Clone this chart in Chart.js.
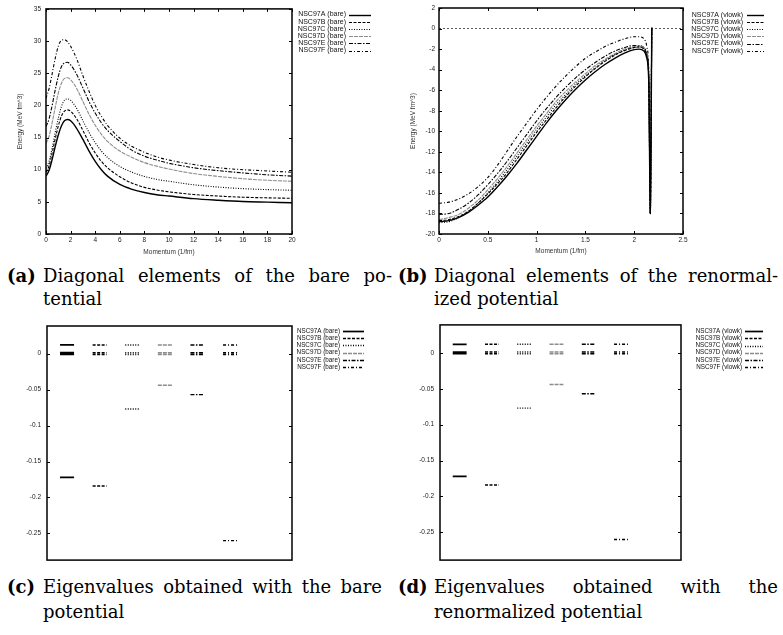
<!DOCTYPE html>
<html lang="en">
<head>
<meta charset="UTF-8">
<title>NSC97 potentials</title>
<script src="https://cdn.jsdelivr.net/npm/chart.js@4.4.1/dist/chart.umd.min.js"></script>
<style>
  body { margin: 0; background: #fff; width: 783px; height: 635px; position: relative; overflow: hidden; }
  canvas { position: absolute; }
  .cap { position: absolute; font-family: "DejaVu Serif", serif; font-size: 18px; color: #000; }
  .cap .l1 { display: flex; white-space: nowrap; }
  .cap .l1 b { width: 36px; flex: none; }
  .cap .l1 span { flex: 1; text-align: justify; text-align-last: justify; }
  .cap .l2 { padding-left: 36px; }
</style>
</head>
<body>
<canvas id="bare" width="392" height="258" style="left:0;top:0"></canvas>
<canvas id="vlowk" width="391" height="258" style="left:392px;top:0"></canvas>
<canvas id="eigBare" width="392" height="255" style="left:0;top:315px"></canvas>
<canvas id="eigVlowk" width="391" height="255" style="left:392px;top:315px"></canvas>

<div class="cap" style="left:7px;top:264px;width:385px;line-height:23px">
  <div class="l1"><b>(a)</b><span>Diagonal elements of the bare po-</span></div>
  <div class="l2">tential</div>
</div>
<div class="cap" style="left:398px;top:264px;width:380px;line-height:23px">
  <div class="l1"><b>(b)</b><span>Diagonal elements of the renormal-</span></div>
  <div class="l2">ized potential</div>
</div>
<div class="cap" style="left:7px;top:574px;width:375px;line-height:25px">
  <div class="l1"><b>(c)</b><span>Eigenvalues obtained with the bare</span></div>
  <div class="l2">potential</div>
</div>
<div class="cap" style="left:398px;top:574px;width:380px;line-height:25px">
  <div class="l1"><b>(d)</b><span>Eigenvalues obtained with the</span></div>
  <div class="l2">renormalized potential</div>
</div>

<script>
    // ---- data ----
    const sets = ["NSC97A", "NSC97B", "NSC97C", "NSC97D", "NSC97E", "NSC97F"];

    // (a) bare potential, diagonal elements
    const bareMomentum = [0, 0.25, 0.5, 0.75, 1, 1.25, 1.5, 1.75, 2, 2.5, 3, 3.5, 4, 4.5, 5, 6, 7, 8, 9, 10, 12, 14, 16, 18, 20];
    const bareA = [9.0, 9.9, 11.6, 13.6, 15.4, 16.8, 17.6, 17.8, 17.6, 16.4, 14.7, 12.9, 11.3, 10.0, 9.0, 7.7, 6.95, 6.45, 6.1, 5.9, 5.5, 5.25, 5.05, 4.95, 4.85];
    const bareB = [9.6, 10.6, 12.6, 14.8, 16.8, 18.3, 19.1, 19.3, 19.1, 17.9, 16.1, 14.2, 12.6, 11.3, 10.3, 8.9, 7.9, 7.25, 6.85, 6.55, 6.15, 5.9, 5.72, 5.62, 5.55];
    const bareC = [10.2, 11.3, 13.4, 15.8, 18.0, 19.8, 20.8, 21.0, 20.8, 19.5, 17.6, 15.8, 14.2, 12.9, 11.9, 10.5, 9.6, 8.95, 8.5, 8.2, 7.65, 7.3, 7.05, 6.9, 6.8];
    const bareD = [14.1, 15.2, 17.3, 19.7, 21.9, 23.4, 24.2, 24.3, 24.0, 22.6, 20.6, 18.6, 16.9, 15.5, 14.4, 12.9, 11.9, 11.1, 10.55, 10.1, 9.4, 8.95, 8.6, 8.35, 8.2];
    const bareE = [16.7, 17.9, 20.0, 22.4, 24.5, 26.0, 26.6, 26.7, 26.3, 24.8, 22.7, 20.6, 18.8, 17.3, 16.1, 14.4, 13.0, 12.1, 11.5, 11.0, 10.3, 9.85, 9.5, 9.2, 9.0];
    const bareF = [21.1, 22.6, 24.9, 27.3, 29.2, 30.1, 30.2, 29.9, 29.2, 27.2, 24.6, 22.2, 20.0, 18.3, 16.9, 14.9, 13.6, 12.7, 12.0, 11.5, 10.8, 10.3, 10.0, 9.8, 9.6];
    const bareXTicks = [0, 2, 4, 6, 8, 10, 12, 14, 16, 18, 20];
    const bareYTicks = [0, 5, 10, 15, 20, 25, 30, 35];

    // (b) vlowk, diagonal elements
    const vlowkMomentum = [0, 0.1, 0.2, 0.3, 0.4, 0.5, 0.6, 0.7, 0.8, 0.9, 1.0, 1.1, 1.2, 1.3, 1.4, 1.5, 1.6, 1.7, 1.8, 1.9, 2.0, 2.05, 2.1, 2.13, 2.15, 2.165, 2.18];
    const vlowkA = [-18.8, -18.7, -18.4, -17.9, -17.2, -16.4, -15.4, -14.3, -13.1, -11.8, -10.5, -9.2, -8.0, -6.9, -5.9, -5.0, -4.2, -3.5, -2.9, -2.4, -2.05, -2.0, -2.2, -2.9, -5.5, -18.0, 0.1];
    const vlowkB = [-18.7, -18.6, -18.3, -17.8, -17.0, -16.1, -15.1, -14.0, -12.7, -11.4, -10.1, -8.9, -7.7, -6.6, -5.6, -4.7, -3.9, -3.2, -2.6, -2.15, -1.85, -1.8, -2.0, -2.7, -5.3, -18.0, 0.1];
    const vlowkC = [-18.9, -18.8, -18.4, -17.8, -17.0, -16.0, -14.9, -13.7, -12.4, -11.1, -9.8, -8.6, -7.4, -6.4, -5.4, -4.6, -3.8, -3.1, -2.55, -2.1, -1.85, -1.8, -2.0, -2.7, -5.3, -18.0, 0.1];
    const vlowkD = [-18.6, -18.4, -18.1, -17.5, -16.7, -15.7, -14.6, -13.4, -12.1, -10.8, -9.5, -8.3, -7.1, -6.1, -5.2, -4.4, -3.6, -3.0, -2.45, -2.0, -1.75, -1.7, -1.9, -2.6, -5.2, -18.0, 0.1];
    const vlowkE = [-18.1, -18.0, -17.6, -17.0, -16.2, -15.2, -14.1, -12.9, -11.6, -10.3, -9.0, -7.8, -6.7, -5.7, -4.8, -4.0, -3.3, -2.7, -2.2, -1.85, -1.65, -1.65, -1.85, -2.5, -5.0, -18.0, 0.1];
    const vlowkF = [-17.0, -16.9, -16.6, -16.1, -15.4, -14.5, -13.3, -11.9, -10.5, -9.2, -7.9, -6.7, -5.6, -4.6, -3.7, -2.9, -2.3, -1.75, -1.35, -1.0, -0.8, -0.8, -1.0, -1.8, -4.5, -18.0, 0.1];
    const zeroLineX = [0, 2.5];
    const zeroLineY = [0, 0];
    const vlowkXTicks = [0, 0.5, 1, 1.5, 2, 2.5];
    const vlowkYTicks = [-20, -18, -16, -14, -12, -10, -8, -6, -4, -2, 0, 2];

    // (c) / (d) eigenvalues, one column per parameter set
    const eigBareA = [0.012, 0.0012, -0.0012, -0.172];
    const eigBareB = [0.012, 0.0012, -0.0012, -0.184];
    const eigBareC = [0.012, 0.0012, -0.0012, -0.077];
    const eigBareD = [0.012, 0.0012, -0.0012, -0.044];
    const eigBareE = [0.012, 0.0012, -0.0012, -0.057];
    const eigBareF = [0.012, 0.0012, -0.0012, -0.26];
    const eigVlowkA = [0.012, 0.0012, -0.0012, -0.172];
    const eigVlowkB = [0.012, 0.0012, -0.0012, -0.184];
    const eigVlowkC = [0.012, 0.0012, -0.0012, -0.077];
    const eigVlowkD = [0.012, 0.0012, -0.0012, -0.044];
    const eigVlowkE = [0.012, 0.0012, -0.0012, -0.057];
    const eigVlowkF = [0.012, 0.0012, -0.0012, -0.26];
    const eigYTicks = [0, -0.05, -0.1, -0.15, -0.2, -0.25];

    // ---- styles (gnuplot line types) ----
    const lineTypes = [
        {color: "#000", dash: [], width: 1.4},
        {color: "#000", dash: [3, 1.5], width: 1.1},
        {color: "#000", dash: [1, 1.5], width: 1.1},
        {color: "#8c8c8c", dash: [4, 1], width: 1.1},
        {color: "#000", dash: [4, 1.5, 1.5, 1.5], width: 1.1},
        {color: "#000", dash: [3, 2, 1, 2], width: 1.1}
    ];
    const sans = '"Liberation Sans", Arial, sans-serif';

    // box with inward ticks on all four sides
    const frame = {
        id: "frame",
        afterDraw(chart) {
            const {ctx, chartArea: a, scales} = chart;
            const len = 3;
            ctx.save();
            ctx.strokeStyle = "#000";
            ctx.lineWidth = 1;
            ctx.beginPath();
            scales.y.ticks.forEach(t => {
                const p = Math.round(scales.y.getPixelForValue(t.value)) + 0.5;
                ctx.moveTo(a.left, p); ctx.lineTo(a.left + len, p);
                ctx.moveTo(a.right, p); ctx.lineTo(a.right - len, p);
            });
            if (scales.x.options.display) {
                scales.x.ticks.forEach(t => {
                    const p = Math.round(scales.x.getPixelForValue(t.value)) + 0.5;
                    ctx.moveTo(p, a.bottom); ctx.lineTo(p, a.bottom - len);
                    ctx.moveTo(p, a.top); ctx.lineTo(p, a.top + len);
                });
            }
            ctx.stroke();
            ctx.lineWidth = 1.5;
            ctx.strokeRect(a.left, a.top, a.right - a.left, a.bottom - a.top);
            ctx.restore();
        }
    };

    // gnuplot style key: right aligned text, sample line after it
    const key = {
        id: "key",
        afterDraw(chart, args, o) {
            const ctx = chart.ctx;
            ctx.save();
            ctx.font = o.size + "px " + sans;
            ctx.textAlign = "right";
            ctx.textBaseline = "middle";
            ctx.fillStyle = "#111";
            let row = 0;
            chart.data.datasets.forEach(ds => {
                if (!ds.keyLabel) return;
                const y = o.top + row * o.step;
                ctx.fillText(ds.keyLabel, o.textRight, y);
                ctx.beginPath();
                ctx.strokeStyle = ds.borderColor;
                ctx.lineWidth = ds.borderWidth;
                ctx.setLineDash(ds.borderDash);
                ctx.moveTo(o.lineLeft, Math.round(y) + 0.5);
                ctx.lineTo(o.lineRight, Math.round(y) + 0.5);
                ctx.stroke();
                row++;
            });
            ctx.restore();
        }
    };

    function curve(xs, ys, i, tag) {
        const lt = lineTypes[i];
        return {
            keyLabel: sets[i] + " (" + tag + ")",
            data: xs.map((x, k) => ({x: x, y: ys[k]})),
            borderColor: lt.color, borderDash: lt.dash, borderWidth: lt.width,
            pointRadius: 0, cubicInterpolationMode: "monotone", fill: false
        };
    }

    // short horizontal bar for each eigenvalue, centred on the column of its set
    function levels(values, i, tag) {
        const lt = lineTypes[i];
        const col = i + 1, half = 0.215;
        const pts = [];
        values.forEach(v => {
            pts.push({x: col - half, y: v}, {x: col + half, y: v}, {x: col, y: null});
        });
        return {
            keyLabel: sets[i] + " (" + tag + ")",
            data: pts, spanGaps: false,
            borderColor: lt.color, borderDash: lt.dash, borderWidth: lt.width + 0.3,
            pointRadius: 0, tension: 0, fill: false
        };
    }

    function axis(min, max, ticks, title, fit, titlePad, labelPad, show) {
        return {
            type: "linear", min: min, max: max, display: show,
            grid: {display: false, drawTicks: false},
            border: {display: false},
            afterBuildTicks: s => { s.ticks = ticks.map(v => ({value: v})); },
            afterFit: s => { if (s.isHorizontal()) s.height = fit; else s.width = fit; },
            ticks: {color: "#222", padding: labelPad, font: {family: sans, size: 6.5},
                    callback: v => String(v)},
            title: {display: !!title, text: title, color: "#333", padding: titlePad,
                    font: {family: sans, size: 6.5}}
        };
    }

    function build(id, datasets, scales, pad, keyOpts) {
        new Chart(document.getElementById(id), {
            type: "line",
            data: {datasets: datasets},
            options: {
                responsive: false, animation: false, devicePixelRatio: 1,
                layout: {padding: pad},
                scales: scales,
                plugins: {legend: {display: false}, tooltip: {enabled: false}, key: keyOpts}
            },
            plugins: [frame, key]
        });
    }

    const bareSeries = [bareA, bareB, bareC, bareD, bareE, bareF];
    build("bare",
        bareSeries.map((ys, i) => curve(bareMomentum, ys, i, "bare")),
        {
            x: axis(0, 20, bareXTicks, "Momentum (1/fm)", 24, {top: 0, bottom: 2}, 2, true),
            y: axis(0, 35, bareYTicks, "Energy (MeV fm^3)", 46, {top: 16, bottom: 0}, 5, true)
        },
        {top: 8, right: 100, left: 0, bottom: 0},
        {size: 7, textRight: 346, lineLeft: 349, lineRight: 371, top: 14.5, step: 7.2});

    const vlowkSeries = [vlowkA, vlowkB, vlowkC, vlowkD, vlowkE, vlowkF];
    const vlowkSets = vlowkSeries.map((ys, i) => curve(vlowkMomentum, ys, i, "vlowk"));
    vlowkSets.push({
        data: zeroLineX.map((x, k) => ({x: x, y: zeroLineY[k]})),
        borderColor: "#333", borderDash: [2, 2], borderWidth: 0.8, pointRadius: 0, fill: false
    });
    build("vlowk", vlowkSets,
        {
            x: axis(0, 2.5, vlowkXTicks, "Momentum (1/fm)", 24, {top: 0, bottom: 3}, 2, true),
            y: axis(-20, 2, vlowkYTicks, "Energy (MeV fm^3)", 47, {top: 17, bottom: 0}, 4, true)
        },
        {top: 8, right: 100, left: 0, bottom: 0},
        {size: 7, textRight: 351, lineLeft: 355, lineRight: 372, top: 14.7, step: 7.2});

    const eigBare = [eigBareA, eigBareB, eigBareC, eigBareD, eigBareE, eigBareF];
    build("eigBare",
        eigBare.map((v, i) => levels(v, i, "bare")),
        {
            x: axis(0.385, 7.9, [], "", 0, 0, 0, false),
            y: axis(-0.287, 0.0383, eigYTicks, "", 47, 0, 6, true)
        },
        {top: 11, right: 100, left: 0, bottom: 6},
        {size: 6.3, textRight: 340, lineLeft: 343, lineRight: 364, top: 16, step: 7.2});

    const eigVlowk = [eigVlowkA, eigVlowkB, eigVlowkC, eigVlowkD, eigVlowkE, eigVlowkF];
    build("eigVlowk",
        eigVlowk.map((v, i) => levels(v, i, "vlowk")),
        {
            x: axis(0.39, 7.86, [], "", 0, 0, 0, false),
            y: axis(-0.2887, 0.039, eigYTicks, "", 48, 0, 6, true)
        },
        {top: 9, right: 102, left: 0, bottom: 6},
        {size: 6.3, textRight: 350, lineLeft: 353, lineRight: 371, top: 16, step: 7.25});
</script>
</body>
</html>
